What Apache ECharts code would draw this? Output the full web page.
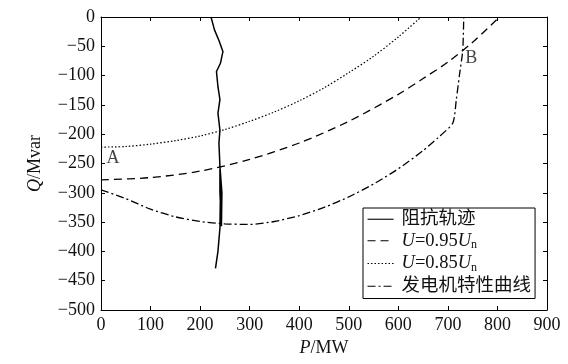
<!DOCTYPE html>
<html><head><meta charset="utf-8">
<script src="https://cdn.jsdelivr.net/npm/echarts@6/dist/echarts.min.js"></script>
<style>html,body{margin:0;padding:0;background:#fff}#c{width:568px;height:364px}</style>
</head><body><div id="c"></div>
<script>
// Impedance trajectory
var traceP = [222,229,238,246,241,233,236,240,236,240,238,240,244,244,243,240,240,241,240,236,231];
var traceQ = [0,-22,-40,-59,-79,-93,-119,-141,-164,-193,-215,-255,-258,-300,-357,-300,-260,-300,-360,-400,-429];
// U = 0.95 Un
var u95P = [0,100,200,300,400,500,600,650,700,750,804];
var u95Q = [-278,-274,-263,-243,-215,-178,-132,-105,-77,-43,0];
// U = 0.85 Un
var u85P = [0,50,100,150,200,250,300,350,400,450,500,550,600,646];
var u85Q = [-222,-221,-217,-211,-203,-192,-178,-162,-143,-121,-95,-67,-34,0];
// Generator characteristic
var genP = [0,50,100,150,200,250,300,350,400,450,500,550,600,650,680,710,717,723,730,732];
var genQ = [-295,-310,-328,-341,-349,-353,-354,-349,-339,-325,-307,-285,-259,-228,-206,-181,-141,-101,-57,0];
// Point labels
var ptNames = ['A','B'];
var ptP = [24,747];
var ptQ = [-241,-70];
var seriesNames = ['阻抗轨迹','U=0.95Un','U=0.85Un','发电机特性曲线'];
var xTicks = {min:0,max:900,interval:100};
var yTicks = {min:-500,max:0,interval:50};

function zip(a,b){return a.map(function(v,i){return [v,b[i]];});}
var FONT = "'Liberation Serif', 'Times New Roman', 'Noto Sans CJK SC', serif";
var chart = echarts.init(document.getElementById('c'));
function mk(o){
  var base = {
    axisLine:{show:true,onZero:false,lineStyle:{color:'#000',width:1}},
    axisTick:{show:true,inside:true,length:4,lineStyle:{color:'#000'}},
    splitLine:{show:false}
  };
  return Object.assign(base,o);
}
var lbl = {color:'#111',fontFamily:FONT,fontSize:18,margin:6};
chart.setOption({
  animation:false,
  backgroundColor:'#fff',
  textStyle:{fontFamily:FONT},
  grid:{left:101,right:21,top:17,bottom:54,show:false},
  xAxis:[
    mk({type:'value',min:xTicks.min,max:xTicks.max,interval:xTicks.interval,position:'bottom',
      axisLabel:lbl,
      name:'{i|P}/MW',nameLocation:'middle',nameGap:26,
      nameTextStyle:{color:'#111',fontFamily:FONT,fontSize:18,rich:{i:{fontStyle:'italic',fontFamily:FONT,fontSize:18}}}}),
    mk({type:'value',min:xTicks.min,max:xTicks.max,interval:xTicks.interval,position:'top',axisLabel:{show:false}})
  ],
  yAxis:[
    mk({type:'value',min:yTicks.min,max:yTicks.max,interval:yTicks.interval,position:'left',
      axisLabel:Object.assign({},lbl,{formatter:function(v){return String(v).replace('-','\u2212');}}),
      name:'{i|Q}/Mvar',nameLocation:'middle',nameGap:57,nameRotate:90,
      nameTextStyle:{color:'#111',fontFamily:FONT,fontSize:18,rich:{i:{fontStyle:'italic',fontFamily:FONT,fontSize:18}}}}),
    mk({type:'value',min:yTicks.min,max:yTicks.max,interval:yTicks.interval,position:'right',axisLabel:{show:false}})
  ],
  legend:{
    orient:'vertical',left:363,top:208,
    data:seriesNames,
    backgroundColor:'#fff',borderColor:'#000',borderWidth:1,borderRadius:0,
    padding:[2,4,3,4],itemGap:3,itemWidth:26,itemHeight:10,
    itemStyle:{opacity:0},
    lineStyle:{width:1.1},
    textStyle:{color:'#111',fontFamily:FONT,fontSize:18.5,padding:[0,0,0,3],
      rich:{i:{fontStyle:'italic',fontFamily:FONT,fontSize:18.5},
            t:{fontFamily:FONT,fontSize:18.5},
            s:{fontFamily:FONT,fontSize:12,padding:[9,0,0,0]}}},
    formatter:function(n){
      if(n.indexOf('U=')===0){return '{i|U}{t|='+n.slice(2,6)+'}{i|U}{s|n}';}
      return n;
    }
  },
  series:[
    {name:seriesNames[0],type:'line',symbol:'none',data:zip(traceP,traceQ),lineStyle:{color:'#000',width:1.5,type:'solid'}},
    {name:seriesNames[1],type:'line',symbol:'none',data:zip(u95P,u95Q),smooth:0.3,lineStyle:{color:'#000',width:1.3,type:[8,5]}},
    {name:seriesNames[2],type:'line',symbol:'none',data:zip(u85P,u85Q),smooth:0.3,lineStyle:{color:'#000',width:1.2,type:[1.5,2]}},
    {name:seriesNames[3],type:'line',symbol:'none',data:zip(genP,genQ),smooth:0.2,lineStyle:{color:'#000',width:1.3,type:[8,3,2,3]}},
    {name:'pts',type:'scatter',symbolSize:0,data:ptNames.map(function(n,i){return {name:n,value:[ptP[i],ptQ[i]]};}),
      label:{show:true,position:'inside',formatter:'{b}',color:'#111',fontFamily:FONT,fontSize:18}}
  ]
});
</script></body></html>
